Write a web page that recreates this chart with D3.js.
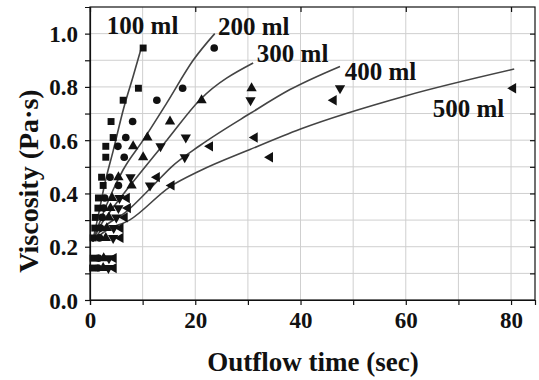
<!DOCTYPE html>
<html>
<head>
<meta charset="utf-8">
<script src="https://cdn.jsdelivr.net/npm/d3@7"></script>
<style>
  body { margin: 0; background: #fff; }
  svg text { font-family: "Liberation Serif", "DejaVu Serif", serif; font-weight: bold; fill: #111; }
</style>
</head>
<body>
<svg id="chart" width="539" height="380"></svg>
<script>
// viscosity levels (Pa·s) shared by all volumes
const levels = [0.12, 0.157, 0.233, 0.27, 0.31, 0.345, 0.383, 0.43, 0.461, 0.536, 0.577, 0.61, 0.67, 0.75, 0.795, 0.946];

// outflow times (sec) per volume, null = no point
const t100 = [0.5, 0.6, 0.6, 0.9, 1.0, 1.5, 1.6, 2.5, 2.2, 3.0, 3.0, 4.4, 4.0, 6.3, 9.2, 10.1];
const t200 = [1.5, 1.6, 1.8, 2.0, 2.3, 2.6, 2.8, 5.4, 3.8, 6.5, 5.3, 6.8, 8.1, 12.7, 17.6, 23.6];
const t300 = [2.5, 2.6, 3.0, 3.2, 3.6, 3.9, 4.2, 7.9, 5.4, 10.1, 8.2, 10.9, 15.2, 21.2, 30.7, null];
const t400 = [3.5, 3.6, 4.4, 4.5, 5.0, 5.4, 5.6, 11.4, 7.7, 18.0, 13.4, 18.2, null, 30.5, 47.5, null];
const t500 = [4.5, 4.5, 5.8, 5.8, 6.6, 7.2, 7.0, 15.5, 12.7, 34.2, 22.8, 31.3, null, 46.3, 80.4, null];

// fitted curves: [time, viscosity]
const fit100 = [[0.5, 0.22], [1.5, 0.31], [2.85, 0.44], [4.4, 0.56], [6.4, 0.72], [8.2, 0.84], [9.8, 0.95]];
const fit200 = [[0.5, 0.22], [2.0, 0.30], [4.4, 0.414], [6.3, 0.489], [10.1, 0.60], [14.6, 0.74], [19.6, 0.90], [23.7, 1.0]];
const fit300 = [[0.5, 0.22], [2.0, 0.28], [4.5, 0.35], [9.5, 0.476], [14.6, 0.60], [20.9, 0.752], [31.0, 0.89]];
const fit400 = [[0.5, 0.22], [2.5, 0.27], [6.8, 0.33], [12.0, 0.43], [15.5, 0.50], [20.9, 0.58], [30.4, 0.70], [38.0, 0.79], [47.5, 0.877]];
const fit500 = [[0.5, 0.22], [3.0, 0.26], [7.5, 0.30], [15.2, 0.425], [20.9, 0.485], [30.4, 0.565], [40.0, 0.642], [60.1, 0.767], [80.6, 0.867]];

const labels = ["100 ml", "200 ml", "300 ml", "400 ml", "500 ml"];
const labelX = [3.2, 24.3, 31.7, 48.4, 65.1];
const labelY = [1.0, 0.996, 0.895, 0.827, 0.688];

const xTicks = [0, 20, 40, 60, 80];
const yTicks = [0.0, 0.2, 0.4, 0.6, 0.8, 1.0];

const svg = d3.select("#chart");
const margin = {top: 7, right: 4, bottom: 80, left: 90};
const width = 539 - margin.left - margin.right;
const height = 380 - margin.top - margin.bottom;

const g = svg.append("g").attr("transform", "translate(" + margin.left + "," + margin.top + ")");

const x = d3.scaleLinear().domain([0, 84.55]).range([0, width]);
const y = d3.scaleLinear().domain([0, 1.1]).range([height, 0]);

// grid
g.append("g")
  .selectAll("line")
  .data(d3.range(10, 85, 10))
  .enter().append("line")
  .attr("x1", d => x(d)).attr("x2", d => x(d))
  .attr("y1", 0).attr("y2", height)
  .attr("stroke", "#cfcfcf").attr("stroke-width", 1);
g.append("g")
  .selectAll("line")
  .data(d3.range(1, 11).map(d => d / 10))
  .enter().append("line")
  .attr("x1", 0).attr("x2", width)
  .attr("y1", d => y(d)).attr("y2", d => y(d))
  .attr("stroke", "#cfcfcf").attr("stroke-width", 1);

// frame
g.append("rect").attr("width", width).attr("height", height)
  .attr("fill", "none").attr("stroke", "#111").attr("stroke-width", 1.2);

// axes
const xAxis = g.append("g").attr("transform", "translate(0," + height + ")")
  .call(d3.axisBottom(x).tickValues(d3.range(0, 85, 10)).tickSize(5).tickFormat(d => xTicks.includes(d) ? d : ""));
const yAxis = g.append("g")
  .call(d3.axisLeft(y).tickValues(d3.range(0, 11).map(d => d / 10)).tickSize(5)
    .tickFormat(d => yTicks.some(v => Math.abs(v - d) < 1e-9) ? d3.format(".1f")(d) : ""));
[xAxis, yAxis].forEach(a => {
  a.select(".domain").attr("stroke", "#111").attr("stroke-width", 1.2);
  a.selectAll(".tick line").attr("stroke", "#111").attr("stroke-width", 1.2);
  a.selectAll("text").style("font-size", "23px").attr("fill", "#111");
});
xAxis.selectAll("text").attr("dy", "0.85em");
yAxis.selectAll("text").attr("x", -12).attr("dy", "0.35em");

// mirror ticks on top and right
g.append("g").call(d3.axisTop(x).tickValues(xTicks).tickSize(-5).tickFormat(""))
  .call(a => a.select(".domain").remove())
  .selectAll("line").attr("stroke", "#111").attr("stroke-width", 1.2);
g.append("g").attr("transform", "translate(" + width + ",0)")
  .call(d3.axisRight(y).tickValues(d3.range(1, 11).map(d => d / 10)).tickSize(-5).tickFormat(""))
  .call(a => a.select(".domain").remove())
  .selectAll("line").attr("stroke", "#111").attr("stroke-width", 1.2);

// fitted curves
const line = d3.line().x(d => x(d[0])).y(d => y(d[1])).curve(d3.curveMonotoneX);
[fit100, fit200, fit300, fit400, fit500].forEach(f => {
  g.append("path").datum(f).attr("d", line)
    .attr("fill", "none").attr("stroke", "#444").attr("stroke-width", 1.6);
});

// markers
const symbols = [
  {times: t100, type: d3.symbolSquare, size: 48, rot: 0},
  {times: t200, type: d3.symbolCircle, size: 46, rot: 0},
  {times: t300, type: d3.symbolTriangle, size: 46, rot: 0},
  {times: t400, type: d3.symbolTriangle, size: 46, rot: 180},
  {times: t500, type: d3.symbolTriangle, size: 46, rot: -90}
];
symbols.forEach(s => {
  const pts = levels.map((v, i) => [s.times[i], v]).filter(p => p[0] != null);
  g.append("g").selectAll("path").data(pts).enter().append("path")
    .attr("d", d3.symbol().type(s.type).size(s.size))
    .attr("transform", d => "translate(" + x(d[0]) + "," + y(d[1]) + ") rotate(" + s.rot + ")")
    .attr("fill", "#111");
});

// curve labels
g.append("g").selectAll("text").data(labels).enter().append("text")
  .attr("x", (d, i) => x(labelX[i]))
  .attr("y", (d, i) => y(labelY[i]))
  .style("font-size", "25px")
  .text(d => d);

// axis titles
svg.append("text")
  .attr("transform", "translate(38,181) rotate(-90)")
  .attr("text-anchor", "middle")
  .style("font-size", "28px")
  .text("Viscosity (Pa·s)");
svg.append("text")
  .attr("x", 313).attr("y", 371)
  .attr("text-anchor", "middle")
  .style("font-size", "27px")
  .text("Outflow time (sec)");
</script>
</body>
</html>
